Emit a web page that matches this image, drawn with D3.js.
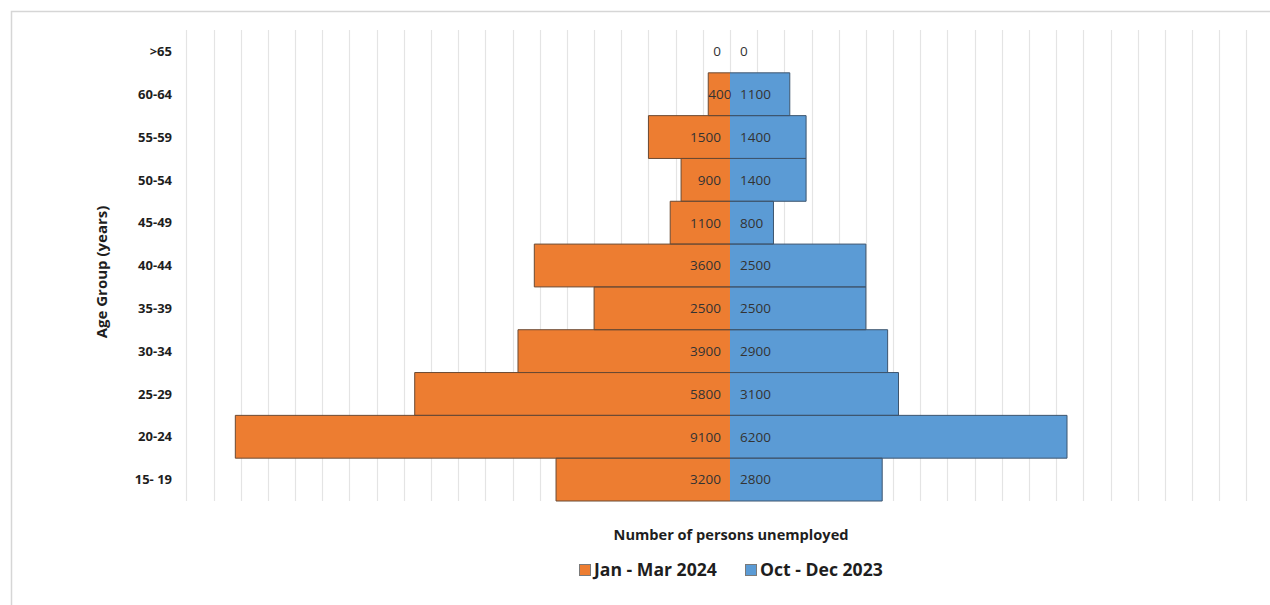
<!DOCTYPE html>
<html>
<head>
<meta charset="utf-8">
<script src="https://cdn.jsdelivr.net/npm/d3@7"></script>
<style>
  html, body { margin: 0; padding: 0; background: #ffffff; }
  svg { display: block; }
  text { font-family: "Open Sans", "Noto Sans", sans-serif; }
</style>
</head>
<body>
<svg id="chart" width="1270" height="605"></svg>
<script>
// Age groups, top to bottom
const ageGroups = [">65", "60-64", "55-59", "50-54", "45-49", "40-44", "35-39", "30-34", "25-29", "20-24", "15- 19"];
// Unemployed persons per age group
const janMar2024 = [0, 400, 1500, 900, 1100, 3600, 2500, 3900, 5800, 9100, 3200];
const octDec2023 = [0, 1100, 1400, 1400, 800, 2500, 2500, 2900, 3100, 6200, 2800];
const seriesNames = ["Jan - Mar 2024", "Oct - Dec 2023"];
const seriesColors = ["#ED7D31", "#5B9BD5"];
const seriesStrokes = ["#6b4a33", "#3d556e"];
// Value grid (left side shows negative for the first series)
const gridStep = 500;
const gridMin = -10000;
const gridMax = 9500;

const svg = d3.select("#chart");

// Outer chart frame (top and left edges)
svg.append("path")
  .attr("d", "M11.5,605 L11.5,11.5 L1270,11.5")
  .attr("fill", "none")
  .attr("stroke", "#d6d6d6")
  .attr("stroke-width", 1.5);

const x = d3.scaleLinear().domain([gridMin, gridMax]).range([186.4, 1246.4]);
const y = d3.scaleBand().domain(ageGroups).range([30, 501]).padding(0);

// Vertical gridlines
svg.append("g")
  .selectAll("line")
  .data(d3.range(gridMin, gridMax + 1, gridStep))
  .join("line")
  .attr("x1", d => Math.round(x(d)) + 0.5)
  .attr("x2", d => Math.round(x(d)) + 0.5)
  .attr("y1", y.range()[0])
  .attr("y2", y.range()[1])
  .attr("stroke", "#e4e4e4")
  .attr("stroke-width", 1.2);

const rows = ageGroups.map((g, i) => ({ group: g, left: janMar2024[i], right: octDec2023[i] }));

// Bars: fill, then outline on the three outer sides
const bars = svg.append("g");
rows.forEach(r => {
  const y0 = y(r.group);
  const x0 = x(0);
  if (r.left > 0) {
    const xl = x(-r.left);
    bars.append("rect")
      .attr("x", xl).attr("y", y0)
      .attr("width", x0 - xl).attr("height", y.bandwidth())
      .attr("fill", seriesColors[0]);
  }
  if (r.right > 0) {
    const xr = x(r.right);
    bars.append("rect")
      .attr("x", x0).attr("y", y0)
      .attr("width", xr - x0).attr("height", y.bandwidth())
      .attr("fill", seriesColors[1]);
  }
});
rows.forEach(r => {
  const y0 = y(r.group), y1 = y0 + y.bandwidth();
  const x0 = x(0);
  if (r.left > 0) {
    const xl = x(-r.left);
    bars.append("path")
      .attr("d", `M${x0},${y0} L${xl},${y0} L${xl},${y1} L${x0},${y1}`)
      .attr("fill", "none").attr("stroke", seriesStrokes[0]).attr("stroke-width", 1);
  }
  if (r.right > 0) {
    const xr = x(r.right);
    bars.append("path")
      .attr("d", `M${x0},${y0} L${xr},${y0} L${xr},${y1} L${x0},${y1}`)
      .attr("fill", "none").attr("stroke", seriesStrokes[1]).attr("stroke-width", 1);
  }
});

// Value labels at the base of each bar
const labels = svg.append("g")
  .attr("font-size", "13.5px")
  .attr("fill", "#333333");
rows.forEach(r => {
  const cy = y(r.group) + y.bandwidth() / 2;
  const lt = labels.append("text")
    .attr("x", x(0) - 9).attr("y", cy).attr("dy", "0.36em")
    .attr("text-anchor", "end")
    .text(r.left);
  // keep the label inside a narrow bar
  const w = lt.node().getComputedTextLength();
  const barLeft = x(-r.left);
  if (r.left > 0 && x(0) - 9 - w < barLeft) {
    lt.attr("x", barLeft + w);
  }
  labels.append("text")
    .attr("x", x(0) + 10).attr("y", cy).attr("dy", "0.36em")
    .attr("text-anchor", "start")
    .text(r.right);
});

// Category axis labels
const yAxis = svg.append("g")
  .attr("transform", "translate(172,0)")
  .call(d3.axisLeft(y).tickSize(0).tickPadding(0));
yAxis.select(".domain").remove();
yAxis.selectAll("text")
  .attr("font-family", "'Open Sans', sans-serif")
  .attr("font-size", "13px")
  .attr("font-weight", "bold")
  .attr("fill", "#1e1e1e")
  .attr("dy", "0.36em");

// Axis titles
svg.append("text")
  .attr("transform", "translate(107,272) rotate(-90)")
  .attr("text-anchor", "middle")
  .attr("font-size", "15px")
  .attr("font-weight", "bold")
  .attr("fill", "#1e1e1e")
  .text("Age Group (years)");

svg.append("text")
  .attr("x", 731).attr("y", 540)
  .attr("text-anchor", "middle")
  .attr("font-size", "14.6px")
  .attr("font-weight", "bold")
  .attr("fill", "#1e1e1e")
  .text("Number of persons unemployed");

// Legend
const legendX = [579, 745];
const legend = svg.append("g");
seriesNames.forEach((name, i) => {
  legend.append("rect")
    .attr("x", legendX[i] + 0.5).attr("y", 564.5)
    .attr("width", 11).attr("height", 11)
    .attr("fill", seriesColors[i])
    .attr("stroke", "#7a7a7a").attr("stroke-width", 1);
  legend.append("text")
    .attr("x", legendX[i] + 15).attr("y", 576)
    .attr("font-size", "17.6px")
    .attr("font-weight", "bold")
    .attr("fill", "#1e1e1e")
    .text(name);
});
</script>
</body>
</html>
